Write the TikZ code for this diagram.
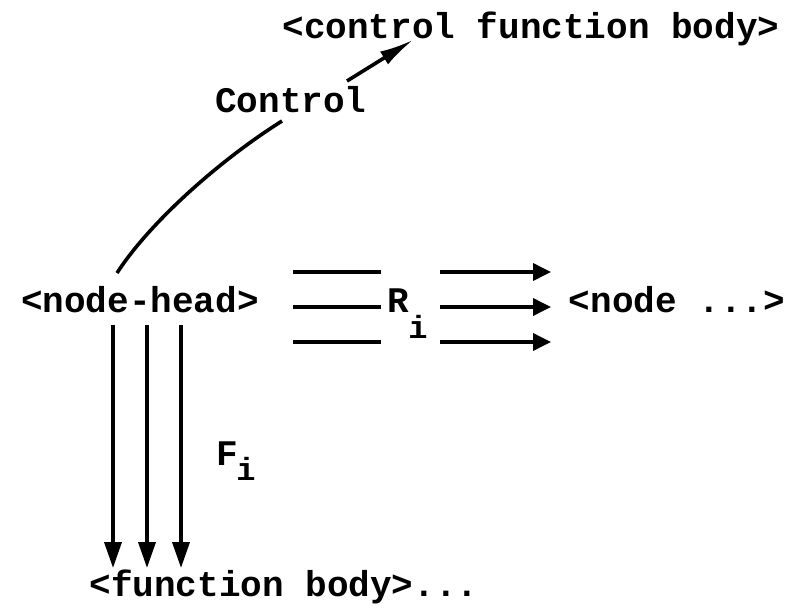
\documentclass[tikz,border=0pt]{standalone}
\usepackage{fontspec}
\setmonofont{Liberation Mono}
\usetikzlibrary{arrows.meta}
\begin{document}
\begin{tikzpicture}[x=1pt,y=-1pt,
  lbl/.style={font=\ttfamily\bfseries\fontsize{36}{40}\selectfont, inner sep=0pt, anchor=base},
  sub/.style={font=\ttfamily\bfseries\fontsize{32}{36}\selectfont, inner sep=0pt, anchor=base},
  ln/.style={line width=3.6pt},
  harr/.style={ln,-{Triangle[length=18pt,width=17pt]}},
  varr/.style={ln,-{Triangle[length=26pt,width=17pt]}},
]
\useasboundingbox (0,0) rectangle (794,610);
% texts
\node[lbl] (cfb) at (531,38) {<control function body>};
\node[lbl] (ctl) at (291,112) {Control};
\node[lbl] (nh) at (140,312) {<node-head>};
\node[lbl] (nd) at (677,312) {<node ...>};
\node[lbl] (fb) at (284,596) {<function body>...};
\node[lbl] (R) at (398,312) {R};
\node[sub] (Ri) at (418,338) {i};
\node[lbl] (F) at (227,465) {F};
\node[sub] (Fi) at (246,480) {i};
% control links
\coordinate (c0) at (117,273);
\coordinate (c1) at (282,121);
\draw[ln] (c0) .. controls (150,222) and (220,160) .. (c1);
\coordinate (a0) at (347,81);
\coordinate (a1) at (413,40);
\draw[ln,-{Latex[length=34pt,width=15pt]}] (a0) -- (a1);
% horizontal relation lines
\foreach \y [count=\k] in {272,307,342}{
  \coordinate (l\k a) at (293,\y);
  \coordinate (l\k b) at (381,\y);
  \coordinate (r\k a) at (440,\y);
  \coordinate (r\k b) at (551,\y);
  \draw[ln] (l\k a) -- (l\k b);
  \draw[harr] (r\k a) -- (r\k b);
}
% vertical function arrows
\foreach \x [count=\k] in {113,147,181}{
  \coordinate (v\k a) at (\x,325);
  \coordinate (v\k b) at (\x,568);
  \draw[varr] (v\k a) -- (v\k b);
}
\end{tikzpicture}
\end{document}
